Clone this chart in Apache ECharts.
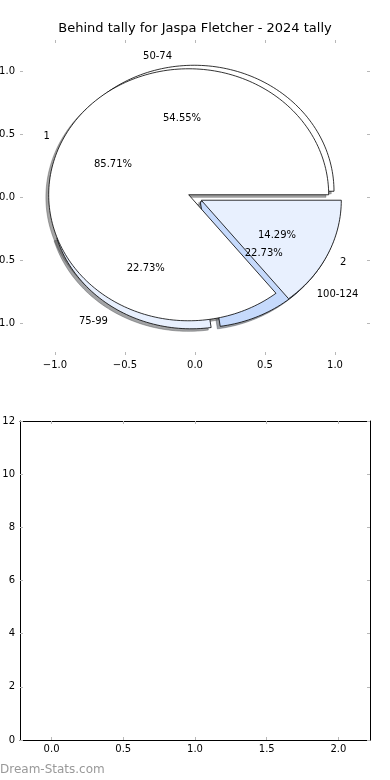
<!DOCTYPE html>
<html><head><meta charset="utf-8">
<script src="https://cdn.jsdelivr.net/npm/echarts@6/dist/echarts.min.js"></script>
<style>html,body{margin:0;padding:0;background:#fff}#c{width:390px;height:780px}</style>
</head><body><div id="c"></div>
<script>
// ---- data ----
const titleText = 'Behind tally for Jaspa Fletcher - 2024 tally';
const pieACategories = ['50-74', '75-99', '100-124'];
const pieAValues = [12, 5, 5];
const pieBCategories = ['1', '2'];
const pieBValues = [6, 1];
const pieTicks = [-1, -0.5, 0, 0.5, 1];
const barXTicks = [0, 0.5, 1, 1.5, 2];
const barYTicks = [0, 2, 4, 6, 8, 10, 12];
const watermark = 'Dream-Stats.com';

// ---- styles ----
const pieAColors = ['#ffffff', '#e8f0fe', '#c6dafc'];
const pieBColors = ['#ffffff', '#e8f0fe'];
const EXPLODE = 0.05, RADIUS = 1, LABEL_DIST = 1.1, PCT_DIST = 0.6;
const SHADOW_OFF = -0.02;
const TEXT_DY = 2;
const FONT = 'DejaVu Sans';
const TICK_COLOR = '#b8b8b8';

function buildWedges(cats, vals, colors, pie) {
  const total = vals.reduce((a, b) => a + b, 0);
  let t1 = 0;
  return cats.map((c, i) => {
    const frac = vals[i] / total;
    const t2 = t1 + frac * 360;
    const tm = (t1 + t2) / 2 * Math.PI / 180;
    const w = {
      pie, name: c, pct: (frac * 100).toFixed(2) + '%',
      t1, t2, tm, cx: EXPLODE * Math.cos(tm), cy: EXPLODE * Math.sin(tm), color: colors[i]
    };
    t1 = t2;
    return w;
  });
}
const wedgesA = buildWedges(pieACategories, pieAValues, pieAColors, 0);
const wedgesB = buildWedges(pieBCategories, pieBValues, pieBColors, 1);
const allWedges = wedgesA.concat(wedgesB);

function wedgePoints(api, w, dx, dy) {
  const cx = w.cx + dx, cy = w.cy + dy;
  const pts = [api.coord([cx, cy])];
  const n = Math.max(10, Math.ceil((w.t2 - w.t1) / 1.5));
  for (let k = 0; k <= n; k++) {
    const a = (w.t1 + (w.t2 - w.t1) * k / n) * Math.PI / 180;
    pts.push(api.coord([cx + RADIUS * Math.cos(a), cy + RADIUS * Math.sin(a)]));
  }
  return pts;
}
function shadowColor(hex) {
  const r = parseInt(hex.slice(1, 3), 16), g = parseInt(hex.slice(3, 5), 16), b = parseInt(hex.slice(5, 7), 16);
  return 'rgba(' + Math.round(r * 0.3) + ',' + Math.round(g * 0.3) + ',' + Math.round(b * 0.3) + ',0.5)';
}
function wedgeSeries(list, z, shadow) {
  return {
    type: 'custom', xAxisIndex: 0, yAxisIndex: 0, z, silent: true,
    data: list.map(w => [w.cx, w.cy]),
    renderItem: function (params, api) {
      const w = list[params.dataIndex];
      if (shadow) {
        const col = shadowColor(w.color);
        return { type: 'polygon', shape: { points: wedgePoints(api, w, SHADOW_OFF, SHADOW_OFF) },
          style: { fill: col, stroke: col, lineWidth: 0.8 } };
      }
      return { type: 'polygon', shape: { points: wedgePoints(api, w, 0, 0) },
        style: { fill: w.color, stroke: '#000', lineWidth: 0.8 } };
    }
  };
}
const labelSeries = {
  type: 'custom', xAxisIndex: 0, yAxisIndex: 0, z: 10, silent: true,
  data: allWedges.map(w => [w.cx, w.cy]),
  renderItem: function (params, api) {
    const w = allWedges[params.dataIndex];
    const lx = w.cx + LABEL_DIST * RADIUS * Math.cos(w.tm);
    const ly = w.cy + LABEL_DIST * RADIUS * Math.sin(w.tm);
    const px = w.cx + PCT_DIST * RADIUS * Math.cos(w.tm);
    const py = w.cy + PCT_DIST * RADIUS * Math.sin(w.tm);
    const lp = api.coord([lx, ly]), pp = api.coord([px, py]);
    return { type: 'group', children: [
      { type: 'text', style: { x: lp[0], y: lp[1] + TEXT_DY, text: w.name, fill: '#000', fontSize: 10, fontFamily: FONT,
        align: lx > 0 ? 'left' : 'right', verticalAlign: 'middle' } },
      { type: 'text', style: { x: pp[0], y: pp[1] + TEXT_DY, text: w.pct, fill: '#000', fontSize: 10, fontFamily: FONT,
        align: 'center', verticalAlign: 'middle' } }
    ] };
  }
};

const fmt = v => v.toFixed(1).replace('-', '\u2212');
const tickStyle = { show: true, inside: true, length: 3, lineStyle: { color: TICK_COLOR, width: 1 } };
const lblStyle = { color: '#000', fontSize: 10, fontFamily: FONT };

const chart = echarts.init(document.getElementById('c'), null, { renderer: 'canvas' });
chart.setOption({
  animation: false,
  backgroundColor: '#fff',
  title: { text: titleText, left: 'center', top: 22, padding: 0,
    textStyle: { fontSize: 13, fontWeight: 'normal', fontFamily: FONT, color: '#000' } },
  graphic: [{ type: 'text', left: 0, top: 764, style: { text: watermark, fill: '#999999', fontSize: 12, fontFamily: FONT } }],
  grid: [
    { left: 20, right: 20, top: 40, height: 315, containLabel: false, outerBoundsMode: 'none' },
    { left: 20, right: 20, top: 421, height: 319, containLabel: false, outerBoundsMode: 'none' }
  ],
  xAxis: [
    { gridIndex: 0, type: 'value', min: -1.25, max: 1.25, position: 'bottom',
      axisLine: { show: false, onZero: false }, splitLine: { show: false },
      axisTick: Object.assign({ customValues: pieTicks }, tickStyle),
      axisLabel: Object.assign({ customValues: pieTicks, margin: 5, formatter: fmt }, lblStyle) },
    { gridIndex: 0, type: 'value', min: -1.25, max: 1.25, position: 'top',
      axisLine: { show: false, onZero: false }, splitLine: { show: false },
      axisTick: Object.assign({ customValues: pieTicks }, tickStyle), axisLabel: { show: false } },
    { gridIndex: 1, type: 'value', min: -0.22, max: 2.22, position: 'bottom',
      axisLine: { show: true, onZero: false, lineStyle: { color: '#000', width: 1 } }, splitLine: { show: false },
      axisTick: Object.assign({ customValues: barXTicks }, tickStyle),
      axisLabel: Object.assign({ customValues: barXTicks, margin: 4, formatter: fmt }, lblStyle) },
    { gridIndex: 1, type: 'value', min: -0.22, max: 2.22, position: 'top',
      axisLine: { show: true, onZero: false, lineStyle: { color: '#000', width: 1 } }, splitLine: { show: false },
      axisTick: Object.assign({ customValues: barXTicks }, tickStyle), axisLabel: { show: false } }
  ],
  yAxis: [
    { gridIndex: 0, type: 'value', min: -1.25, max: 1.25, position: 'left',
      axisLine: { show: false, onZero: false }, splitLine: { show: false },
      axisTick: Object.assign({ customValues: pieTicks }, tickStyle),
      axisLabel: Object.assign({ customValues: pieTicks, margin: 5, formatter: fmt }, lblStyle) },
    { gridIndex: 0, type: 'value', min: -1.25, max: 1.25, position: 'right',
      axisLine: { show: false, onZero: false }, splitLine: { show: false },
      axisTick: Object.assign({ customValues: pieTicks }, tickStyle), axisLabel: { show: false } },
    { gridIndex: 1, type: 'value', min: 0, max: 12, position: 'left',
      axisLine: { show: true, onZero: false, lineStyle: { color: '#000', width: 1 } }, splitLine: { show: false },
      axisTick: Object.assign({ customValues: barYTicks }, tickStyle),
      axisLabel: Object.assign({ customValues: barYTicks, margin: 5 }, lblStyle) },
    { gridIndex: 1, type: 'value', min: 0, max: 12, position: 'right',
      axisLine: { show: true, onZero: false, lineStyle: { color: '#000', width: 1 } }, splitLine: { show: false },
      axisTick: Object.assign({ customValues: barYTicks }, tickStyle), axisLabel: { show: false } }
  ],
  series: [
    wedgeSeries(allWedges, 2, true),
    wedgeSeries(wedgesA, 3, false),
    wedgeSeries(wedgesB, 4, false),
    labelSeries
  ]
});
</script>
</body></html>
